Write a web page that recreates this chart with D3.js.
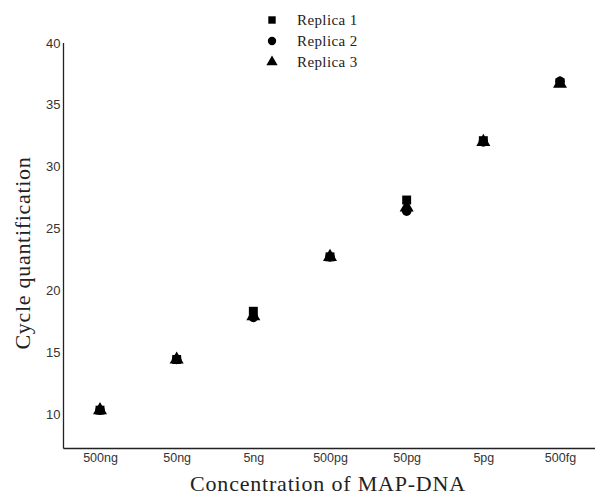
<!DOCTYPE html>
<html>
<head>
<meta charset="utf-8">
<script src="https://cdn.jsdelivr.net/npm/d3@7"></script>
<style>
  body { margin: 0; background: #fff; }
  svg { display: block; }
</style>
</head>
<body>
<svg id="chart" width="595" height="497"></svg>
<script>
// concentrations on the x axis
const concentrations = ["500ng", "50ng", "5ng", "500pg", "50pg", "5pg", "500fg"];
// cycle quantification per replica
const replica1 = [10.3, 14.4, 18.3, 22.7, 27.3, 32.1, 36.8];
const replica2 = [10.3, 14.4, 17.8, 22.7, 26.4, 32.0, 36.9];
const replica3 = [10.3, 14.4, 17.9, 22.7, 26.7, 32.0, 36.7];
const seriesNames = ["Replica 1", "Replica 2", "Replica 3"];
const yTicks = [10, 15, 20, 25, 30, 35, 40];

const svg = d3.select('#chart');
const plotLeft = 63.5, plotBottom = 448.5, plotTop = 43;

const x = d3.scalePoint()
    .domain(concentrations)
    .range([100, 560]);

const y = d3.scaleLinear()
    .domain([7.2, 40])
    .range([plotBottom, plotTop]);

// axes lines
svg.append('line')
    .attr('x1', plotLeft).attr('x2', plotLeft)
    .attr('y1', plotTop).attr('y2', plotBottom)
    .attr('stroke', '#222').attr('stroke-width', 1.3);
svg.append('line')
    .attr('x1', plotLeft).attr('x2', 595)
    .attr('y1', plotBottom).attr('y2', plotBottom)
    .attr('stroke', '#222').attr('stroke-width', 1.3);

// y axis labels (no tick marks)
const yAxis = svg.append('g')
    .attr('transform', `translate(${plotLeft},0)`)
    .call(d3.axisLeft(y).tickValues(yTicks).tickSize(0).tickPadding(3));
yAxis.select('.domain').remove();
yAxis.selectAll('text')
    .attr('font-family', 'Liberation Sans, Arial, sans-serif')
    .attr('font-size', 13)
    .attr('fill', '#333');

// x axis labels
const xAxis = svg.append('g')
    .attr('transform', `translate(0,${plotBottom})`)
    .call(d3.axisBottom(x).tickSize(0).tickPadding(5));
xAxis.select('.domain').remove();
xAxis.selectAll('text')
    .attr('font-family', 'Liberation Sans, Arial, sans-serif')
    .attr('font-size', 12.5)
    .attr('fill', '#333');

// axis titles
svg.append('text')
    .attr('x', 328).attr('y', 491)
    .attr('text-anchor', 'middle')
    .attr('font-family', 'Liberation Serif, Times New Roman, serif')
    .attr('font-size', 22)
    .attr('letter-spacing', 0.8)
    .attr('fill', '#222')
    .text('Concentration of MAP-DNA');

svg.append('text')
    .attr('transform', 'translate(30,253) rotate(-90)')
    .attr('text-anchor', 'middle')
    .attr('font-family', 'Liberation Serif, Times New Roman, serif')
    .attr('font-size', 22)
    .attr('letter-spacing', 0.7)
    .attr('fill', '#222')
    .text('Cycle quantification');

// markers
const symbolTypes = [d3.symbolSquare, d3.symbolCircle, d3.symbolTriangle];
const symbolSizes = [80, 72, 85];
const allSeries = [replica1, replica2, replica3];

allSeries.forEach((vals, i) => {
    svg.append('g')
        .selectAll('path')
        .data(vals)
        .enter()
        .append('path')
        .attr('d', d3.symbol().type(symbolTypes[i]).size(symbolSizes[i]))
        .attr('transform', (d, j) => `translate(${x(concentrations[j])},${y(d)})`)
        .attr('fill', '#000');
});

// legend
const legend = svg.append('g').attr('transform', 'translate(272,20)');
seriesNames.forEach((name, i) => {
    const row = legend.append('g').attr('transform', `translate(0,${i * 21})`);
    row.append('path')
        .attr('d', d3.symbol().type(symbolTypes[i]).size(55))
        .attr('fill', '#000');
    row.append('text')
        .attr('x', 25).attr('y', 5)
        .attr('font-family', 'Liberation Serif, Times New Roman, serif')
        .attr('font-size', 15)
        .attr('letter-spacing', 0.4)
        .attr('fill', '#222')
        .text(name);
});
</script>
</body>
</html>
